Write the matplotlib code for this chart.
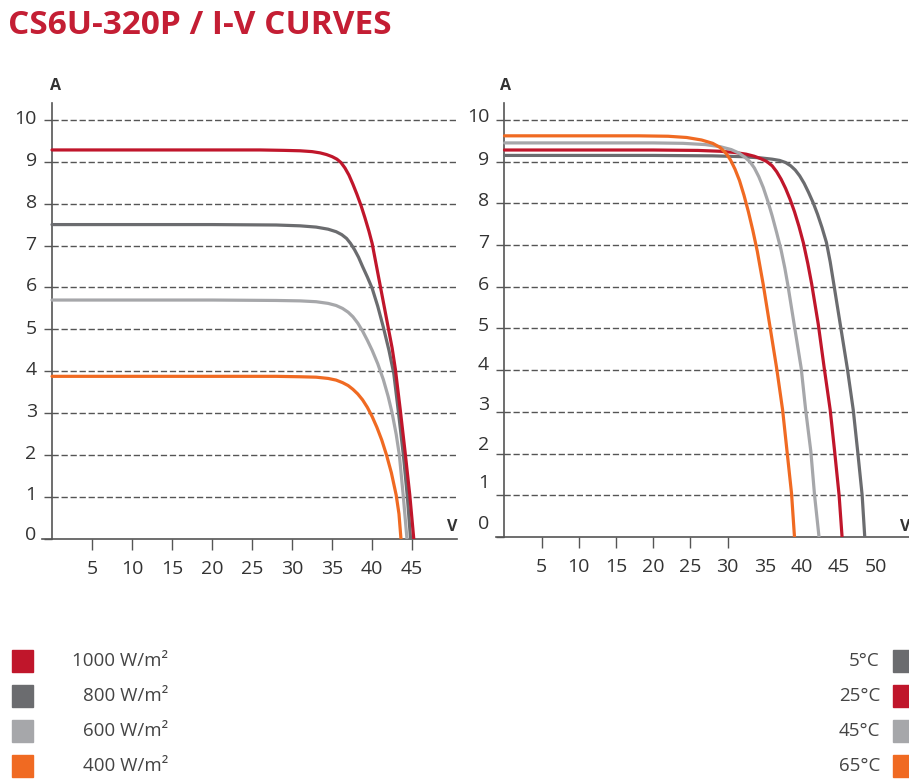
import numpy as np
import matplotlib.pyplot as plt
from matplotlib.patches import Rectangle
from matplotlib.transforms import ScaledTranslation

# ---- data ----
# irradiance curves (left panel)
v_1000 = [0, 10, 20, 26, 29, 31, 32.5, 33.5, 34.3, 35.0, 35.6, 36.1, 36.6, 37.1, 37.6, 38.1, 38.6, 39.1, 39.6,
          40.0, 40.5, 41.0, 41.5, 42.0, 42.5, 42.9, 43.5, 44.1, 44.7, 45.2]
i_1000 = [9.28, 9.28, 9.28, 9.28, 9.27, 9.26, 9.24, 9.21, 9.17, 9.12, 9.06, 8.98, 8.85, 8.68, 8.46, 8.22, 7.96,
          7.66, 7.34, 7.05, 6.55, 6.05, 5.55, 5.05, 4.55, 4.05, 3.1, 2.1, 1.05, 0.0]
v_800 = [0, 10, 20, 28, 31, 33, 34.5, 35.5, 36.2, 36.8, 37.3, 37.8, 38.3, 38.8, 39.4, 40.0, 40.7, 41.4, 42.1,
         42.7, 43.3, 43.9, 44.4, 44.8]
i_800 = [7.5, 7.5, 7.5, 7.49, 7.47, 7.44, 7.39, 7.33, 7.26, 7.17, 7.05, 6.9, 6.72, 6.5, 6.25, 5.98, 5.55, 5.05,
         4.5, 3.95, 3.0, 2.0, 1.0, 0.0]
v_600 = [0, 10, 20, 28, 31, 33, 34.5, 35.5, 36.3, 37.0, 37.6, 38.2, 38.8, 39.4, 40.0, 40.7, 41.4, 42.0, 42.5,
         43.0, 43.4, 43.9, 44.35]
i_600 = [5.7, 5.7, 5.7, 5.69, 5.68, 5.66, 5.62, 5.57, 5.5, 5.41, 5.3, 5.15, 4.96, 4.74, 4.5, 4.18, 3.8, 3.4,
         3.0, 2.5, 2.0, 1.0, 0.0]
v_400 = [0, 10, 20, 28, 31, 33, 34.5, 35.5, 36.3, 37.0, 37.6, 38.2, 38.8, 39.4, 40.0, 40.6, 41.2, 41.8, 42.4,
         43.0, 43.35, 43.6]
i_400 = [3.88, 3.88, 3.88, 3.88, 3.87, 3.86, 3.83, 3.79, 3.73, 3.66, 3.57, 3.46, 3.32, 3.14, 2.92, 2.66, 2.36,
         2.0, 1.58, 1.05, 0.6, 0.0]

# temperature curves (right panel)
v_5c = [0, 10, 20, 28, 32, 34.5, 36, 37, 37.8, 38.5, 39.1, 39.7, 40.3, 40.9, 41.5, 42.1, 42.7, 43.3, 43.8,
        44.3, 45.2, 46.1, 46.9, 47.5, 48.1, 48.45]
i_5c = [9.15, 9.15, 9.15, 9.14, 9.12, 9.09, 9.06, 9.03, 8.98, 8.9, 8.8, 8.66, 8.48, 8.26, 8.02, 7.74, 7.42,
        7.06, 6.6, 6.05, 5.05, 4.05, 3.05, 2.05, 1.0, 0.0]
v_25c = [0, 10, 20, 26, 29, 31, 32.5, 33.6, 34.5, 35.3, 36.0, 36.6, 37.2, 37.8, 38.4, 39.0, 39.6, 40.2, 40.8,
         41.3, 42.2, 43.0, 43.8, 44.4, 45.0, 45.4]
i_25c = [9.28, 9.28, 9.28, 9.27, 9.25, 9.22, 9.18, 9.13, 9.07, 9.0, 8.9, 8.76, 8.58, 8.36, 8.1, 7.8, 7.45,
         7.05, 6.55, 6.08, 5.1, 4.05, 3.05, 2.05, 1.0, 0.0]
v_45c = [0, 10, 20, 24, 27, 29, 30.5, 31.5, 32.3, 33.0, 33.6, 34.2, 34.8, 35.4, 36.0, 36.6, 37.2, 37.7, 38.1,
         39.0, 39.9, 40.5, 41.2, 41.7, 42.3]
i_45c = [9.45, 9.45, 9.45, 9.44, 9.41, 9.36, 9.29, 9.21, 9.11, 9.0, 8.85, 8.64, 8.38, 8.06, 7.7, 7.3, 6.88,
         6.45, 6.05, 5.05, 4.05, 3.05, 2.05, 1.0, 0.0]
v_65c = [0, 10, 18, 22, 24.5, 26.5, 28, 29.0, 29.8, 30.4, 31.0, 31.6, 32.2, 32.8, 33.4, 34.0, 34.4, 34.8,
         35.7, 36.6, 37.4, 38.0, 38.6, 39.0]
i_65c = [9.62, 9.62, 9.62, 9.61, 9.58, 9.52, 9.44, 9.34, 9.2, 9.04, 8.82, 8.55, 8.2, 7.8, 7.35, 6.85, 6.45,
         6.05, 5.05, 4.05, 3.05, 2.05, 1.05, 0.0]

irr_labels = ["1000 W/m²", "800 W/m²", "600 W/m²", "400 W/m²"]
temp_labels = ["5°C", "25°C", "45°C", "65°C"]
y_ticks = [0, 1, 2, 3, 4, 5, 6, 7, 8, 9, 10]
x_ticks_left = [5, 10, 15, 20, 25, 30, 35, 40, 45]
x_ticks_right = [5, 10, 15, 20, 25, 30, 35, 40, 45, 50]

RED = "#c0162b"
DGRAY = "#6b6c6f"
LGRAY = "#a6a7aa"
ORANGE = "#f06a22"
AXC = "#555555"
TXT = "#333333"
LW = 2.3

plt.rcParams['font.family'] = ["Open Sans", "DejaVu Sans"]

fig = plt.figure(figsize=(9.09, 7.80), dpi=100)


def setup(ax, xmax, xticks, ylab_shift):
    ax.set_xlim(-1.2, xmax)
    ax.set_ylim(0, 10.4)
    for s in ["top", "right"]:
        ax.spines[s].set_visible(False)
    ax.spines["left"].set_position(("data", 0))
    for s in ["left", "bottom"]:
        ax.spines[s].set_color(AXC)
        ax.spines[s].set_linewidth(1.2)
    ax.hlines(y_ticks[1:], 0, xmax, colors=AXC, linewidth=1.0,
              linestyles=(0, (4.5, 2.0)), zorder=1)
    ax.set_yticks(y_ticks)
    ax.set_xticks(xticks)
    ax.tick_params(axis="y", direction="out", length=6, width=1, color=AXC,
                   pad=5, labelsize=14, labelcolor=TXT)
    ax.tick_params(axis="x", direction="out", length=8, width=1, color=AXC,
                   pad=7, labelsize=14, labelcolor=TXT)
    for lab, dy in zip(ax.get_yticklabels(), ylab_shift):
        lab.set_transform(lab.get_transform() + ScaledTranslation(0, dy / 100, fig.dpi_scale_trans))


# left panel: irradiance
axl = fig.add_axes([52 / 909 - 1.2 * 8 / 909, 1 - 539 / 780, (405 + 1.2 * 8) / 909, (539 - 103) / 780])
setup(axl, 50.6, x_ticks_left, [6, 4, 3, 3, 3, 2, 3, 3, 3, 3, 3])
axl.plot(v_400, i_400, color=ORANGE, lw=LW, solid_capstyle="round", solid_joinstyle="round", zorder=3)
axl.plot(v_600, i_600, color=LGRAY, lw=LW, solid_capstyle="round", solid_joinstyle="round", zorder=3)
axl.plot(v_800, i_800, color=DGRAY, lw=LW, solid_capstyle="round", solid_joinstyle="round", zorder=3)
axl.plot(v_1000, i_1000, color=RED, lw=LW, solid_capstyle="round", solid_joinstyle="round", zorder=3)

# right panel: temperature
axr = fig.add_axes([504.5 / 909 - 1.2 * 7.44 / 909, 1 - 537 / 780, (404.5 + 1.2 * 7.44) / 909, (537 - 103.3) / 780])
setup(axr, 54.4, x_ticks_right, [15, 14, 11, 9, 7, 4, 4, 4, 4, 4, 5])
for t in axr.xaxis.get_major_ticks()[6:]:
    t.tick1line.set_visible(False)
axr.plot(v_5c, i_5c, color=DGRAY, lw=LW, solid_capstyle="round", solid_joinstyle="round", zorder=3)
axr.plot(v_25c, i_25c, color=RED, lw=LW, solid_capstyle="round", solid_joinstyle="round", zorder=3)
axr.plot(v_45c, i_45c, color=LGRAY, lw=LW, solid_capstyle="round", solid_joinstyle="round", zorder=3)
axr.plot(v_65c, i_65c, color=ORANGE, lw=LW, solid_capstyle="round", solid_joinstyle="round", zorder=3)

# title and axis letters
fig.text(8 / 909, 1 - 25 / 780, "CS6U-320P / I-V CURVES", fontsize=24, fontweight="bold",
         color="#c41e34", va="center", ha="left")
fig.text(55 / 909, 1 - 86 / 780, "A", fontsize=11.5, fontweight="bold", color=TXT, ha="center", va="center")
fig.text(505 / 909, 1 - 86 / 780, "A", fontsize=11.5, fontweight="bold", color=TXT, ha="center", va="center")
fig.text(452 / 909, 1 - 527 / 780, "V", fontsize=11.5, fontweight="bold", color=TXT, ha="center", va="center")
fig.text(900 / 909, 1 - 527 / 780, "V", fontsize=11.5, fontweight="bold", color=TXT, ha="left", va="center")

# legends drawn as colour squares
row_y = [661, 696, 731, 766]
for lab, col, yc in zip(irr_labels, [RED, DGRAY, LGRAY, ORANGE], row_y):
    fig.patches.append(Rectangle((12 / 909, 1 - (yc + 11) / 780), 21 / 909, 22 / 780,
                                 transform=fig.transFigure, color=col))
    fig.text(168 / 909, 1 - yc / 780, lab, fontsize=13.5, color="#444444", ha="right", va="center")
for lab, col, yc in zip(temp_labels, [DGRAY, RED, LGRAY, ORANGE], row_y):
    fig.patches.append(Rectangle((893 / 909, 1 - (yc + 11) / 780), 21 / 909, 22 / 780,
                                 transform=fig.transFigure, color=col))
    fig.text(880 / 909, 1 - yc / 780, lab, fontsize=13.5, color="#444444", ha="right", va="center")

fig.savefig("out.png", dpi=100)
